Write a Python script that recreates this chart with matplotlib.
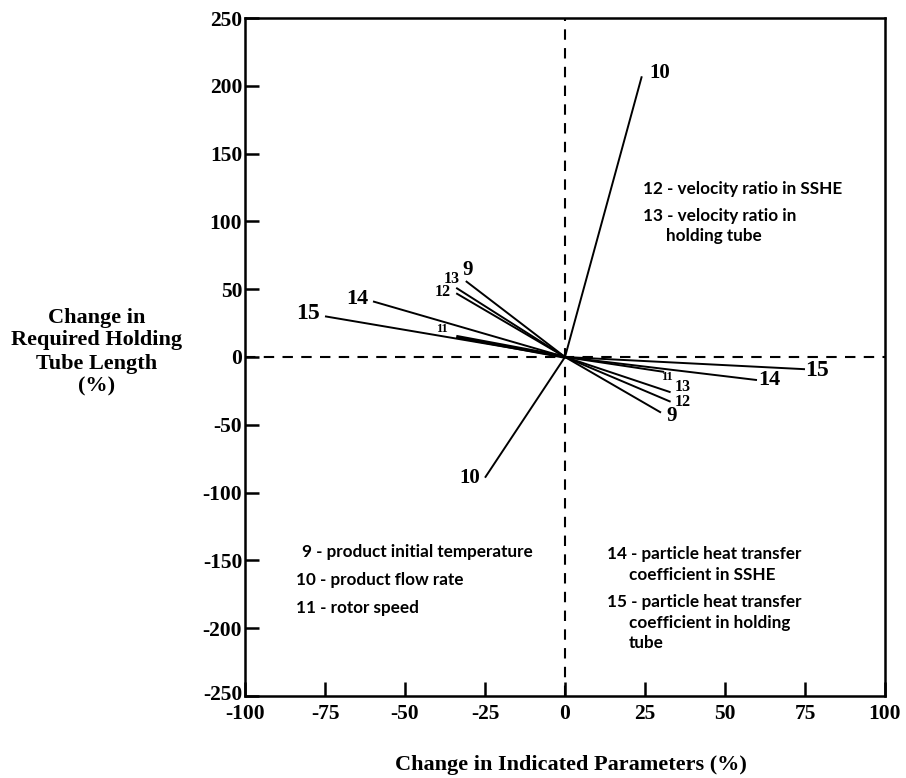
import matplotlib
matplotlib.use("Agg")
import matplotlib.pyplot as plt
import matplotlib.transforms as mtransforms

# parameter ids and the end points of each sensitivity line (both sides of the origin)
ids = [9, 10, 11, 12, 13, 14, 15]
neg_x = [-31, -25, -34, -34, -34, -60, -75]
neg_y = [56, -89, 15, 47, 51, 41, 30]
pos_x = [30, 24, 31, 33, 33, 60, 75]
pos_y = [-41, 207, -11, -33, -26, -17, -9]

# number labels placed at the ends of the lines
neg_lab_x = [-30.3, -29.7, -38.4, -38.1, -35.3, -65.0, -80.3]
neg_lab_y = [64.2, -89.2, 20.6, 47.9, 57.5, 42.8, 32.4]
pos_lab_x = [33.4, 29.7, 31.9, 36.9, 36.9, 64.0, 78.8]
pos_lab_y = [-43.5, 209.4, -15.1, -32.9, -22.4, -17.0, -9.6]
lab_size = [15, 15, 9, 11.5, 11.5, 16, 17]
neg_w = [1.4, 1.4, 2.6, 1.4, 1.4, 1.4, 1.4]

xticks = [-100, -75, -50, -25, 0, 25, 50, 75, 100]
yticks = [-250, -200, -150, -100, -50, 0, 50, 100, 150, 200, 250]

serif = "Liberation Serif"
sans = "Lato"

fig = plt.figure(figsize=(9.06, 7.78), dpi=100)
ax = fig.add_axes([245/906, 1-696/778, 640/906, 678/778])

ax.axhline(0, color="black", lw=1.5, ls=(0, (5, 4)), zorder=1)
ax.axvline(0, color="black", lw=1.5, ls=(0, (5, 4)), zorder=1)

for i in range(len(ids)):
    ax.plot([neg_x[i], 0], [neg_y[i], 0], color="black", lw=neg_w[i],
            solid_capstyle="butt", zorder=2)
    ax.plot([0, pos_x[i]], [0, pos_y[i]], color="black", lw=1.4,
            solid_capstyle="butt", zorder=2)
    for lx, ly in [(neg_lab_x[i], neg_lab_y[i]), (pos_lab_x[i], pos_lab_y[i])]:
        ax.text(lx, ly, str(ids[i]), ha="center", va="center",
                fontsize=lab_size[i], fontweight="bold", family=serif)

ax.set_xlim(-100, 100)
ax.set_ylim(-250, 250)
ax.set_xticks(xticks)
ax.set_yticks(yticks)
ax.set_xticklabels([str(t) for t in xticks], fontsize=15.5, fontweight="bold", family=serif)
ax.set_yticklabels([str(t) for t in yticks], fontsize=15.5, fontweight="bold", family=serif)
ax.tick_params(direction="in", length=10, width=1.8, pad=2)
ax.tick_params(axis="x", pad=6)
for s in ax.spines.values():
    s.set_linewidth(1.8)

# lift the bottom y label a little so it clears the -100 below it
lab = ax.get_yticklabels()[0]
lab.set_transform(lab.get_transform() + mtransforms.ScaledTranslation(0, 4/100, fig.dpi_scale_trans))

# parameter key blocks
def key(px, py, s):
    fig.text(px/906, 1-py/778, s, ha="left", va="center", fontsize=12.3,
             fontweight="bold", family=sans)

key(643, 189, "12 - velocity ratio in SSHE")
key(643, 216, "13 - velocity ratio in")
key(666, 236, "holding tube")

key(302, 552, "9 - product initial temperature")
key(296, 580, "10 - product flow rate")
key(296, 608, "11 - rotor speed")

key(607, 554, "14 - particle heat transfer")
key(629, 575, "coefficient in SSHE")
key(607, 602, "15 - particle heat transfer")
key(629, 623, "coefficient in holding")
key(629, 643, "tube")

fig.text(97/906, 1-352/778, "Change in\nRequired Holding\nTube Length\n(%)",
         ha="center", va="center", fontsize=16, fontweight="bold", family=serif,
         linespacing=1.2)
fig.text(571/906, 1-765/778, "Change in Indicated Parameters (%)",
         ha="center", va="center", fontsize=16, fontweight="bold", family=serif)

fig.savefig("out.png", dpi=100)
